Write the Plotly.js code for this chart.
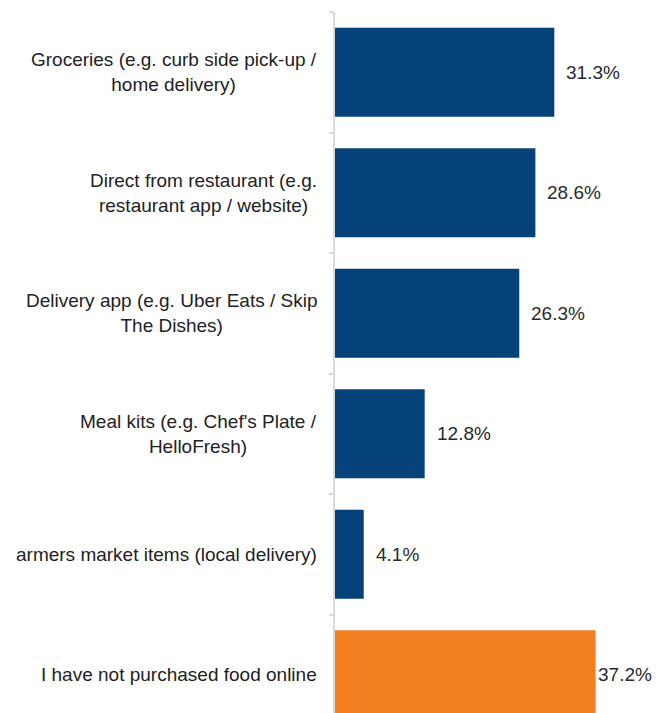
<!DOCTYPE html>
<html>
<head>
<meta charset="utf-8">
<script src="https://cdn.plot.ly/plotly-3.0.1.min.js"></script>
<style>
html,body{margin:0;padding:0;overflow:hidden;background:#fff;}
#chart{width:656px;height:740px;}
</style>
</head>
<body>
<div id="chart"></div>
<script>
var categories = [
  "Groceries (e.g. curb side pick-up /<br>home delivery)",
  "Direct from restaurant (e.g.<br>restaurant app / website)",
  "Delivery app (e.g. Uber Eats / Skip<br>The Dishes)",
  "Meal kits (e.g. Chef's Plate /<br>HelloFresh)",
  "armers market items (local delivery)",
  "I have not purchased food online"
];
var values = [31.3, 28.6, 26.3, 12.8, 4.1, 37.2];
var barColors = ["#05427A", "#05427A", "#05427A", "#05427A", "#05427A", "#F47F21"];

var keys = categories.map(function(c, i){ return "c" + i; });

var FONT = "Liberation Sans, Arial, sans-serif";

var annotations = [];
categories.forEach(function(c, i){
  annotations.push({
    x: 0, xref: "paper", y: keys[i], yref: "y",
    text: c, showarrow: false, xanchor: "right", yanchor: "middle",
    align: "center", xshift: -16,
    font: {family: FONT, size: 19, color: "#222222"}
  });
  annotations.push({
    x: values[i], xref: "x", y: keys[i], yref: "y",
    text: values[i].toFixed(1) + "%", showarrow: false,
    xanchor: "left", yanchor: "middle",
    xshift: (i === values.length - 1) ? 0 : 10,
    font: {family: FONT, size: 19, color: "#2a2a2a"}
  });
});

var data = [{
  type: "bar",
  orientation: "h",
  x: values,
  y: keys,
  marker: {color: barColors, line: {width: 0}},
  hoverinfo: "skip"
}];

var layout = {
  width: 656,
  height: 740,
  margin: {l: 335, r: 5, t: 12, b: 5},
  paper_bgcolor: "#ffffff",
  plot_bgcolor: "#ffffff",
  showlegend: false,
  bargap: 0.26,
  xaxis: {
    range: [0, 45.1],
    visible: false,
    showgrid: false,
    zeroline: false,
    fixedrange: true
  },
  yaxis: {
    type: "category",
    range: [5.5, -0.5],
    showticklabels: false,
    showgrid: false,
    zeroline: false,
    showline: true,
    linecolor: "#d9d9d9",
    linewidth: 2,
    ticks: "outside",
    tickson: "boundaries",
    ticklen: 4,
    tickwidth: 2,
    tickcolor: "#d9d9d9",
    fixedrange: true
  },
  annotations: annotations
};

Plotly.newPlot("chart", data, layout, {displayModeBar: false, staticPlot: true});
</script>
</body>
</html>
